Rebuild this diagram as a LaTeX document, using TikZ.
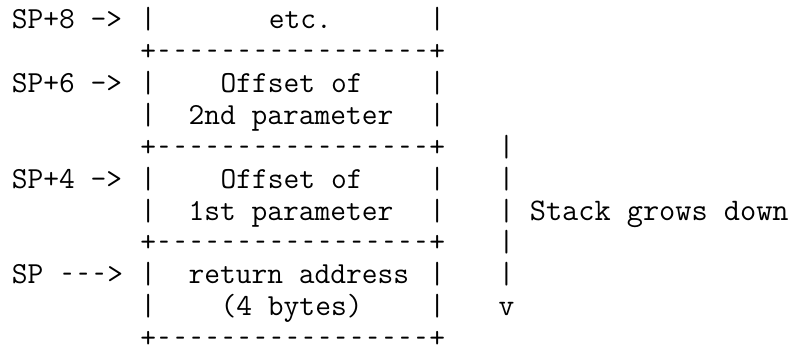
\documentclass[tikz,border=0pt]{standalone}
\usepackage{graphicx}
\usepackage{tikz}

\newcommand\shorthy{\makebox[0.525em]{\scalebox{0.62}[1]{-}}}

\tikzset{
  ascii/.style={font=\fontsize{15.3}{16}\selectfont\ttfamily, inner sep=0pt, anchor=base west},
  dashcell/.style={ascii, anchor=base},
  widetext/.style={ascii, font=\fontsize{15.7}{16}\selectfont\ttfamily}
}

\begin{document}
\begin{tikzpicture}[x = 8.03pt, y = -15.95pt]
\useasboundingbox (-0.716, -0.897) rectangle (48.97, 10.138);

% box rules
\foreach \r in {1, 4, 7, 10} {
  \node (lcor\r) at (8, \r) [ascii] {+};
  \node (rcor\r) at (26, \r) [ascii] {+};
  \foreach \c in {9, ..., 25}
    \node (dash\r-\c) at (\c + 0.5, \r) [dashcell] {\scalebox{0.62}[1]{-}};
}

% box sides
\foreach \r in {0, 2, 3, 5, 6, 8, 9} {
  \node (lbar\r) at (8, \r) [ascii] {|};
  \node (rbar\r) at (26, \r) [ascii] {|};
}

\node (sp8) at (0, 0) [ascii] {SP+8 ->};
\node (sp6) at (0, 2) [ascii] {SP+6 ->};
\node (sp4) at (0, 5) [ascii] {SP+4 ->};
\node (sp) at (0, 8) [ascii] {SP \shorthy\shorthy\shorthy>};

\node (etc) at (16, 0) [ascii] {etc.};
\node (off2) at (13, 2) [ascii] {Offset of};
\node (par2) at (11, 3) [ascii] {2nd parameter};
\node (off1) at (13, 5) [ascii] {Offset of};
\node (par1) at (11, 6) [ascii] {1st parameter};
\node (ret) at (11, 8) [ascii] {return address};
\node (bytes) at (13, 9) [ascii] {(4 bytes)};

% stack direction
\foreach \r in {4, ..., 8}
  \node (grow\r) at (30.3, \r) [ascii] {|};
\node (growtip) at (30.3, 9) [ascii] {v};
\node (grows) at (32.25, 6) [widetext] {Stack grows down};

\end{tikzpicture}
\end{document}
